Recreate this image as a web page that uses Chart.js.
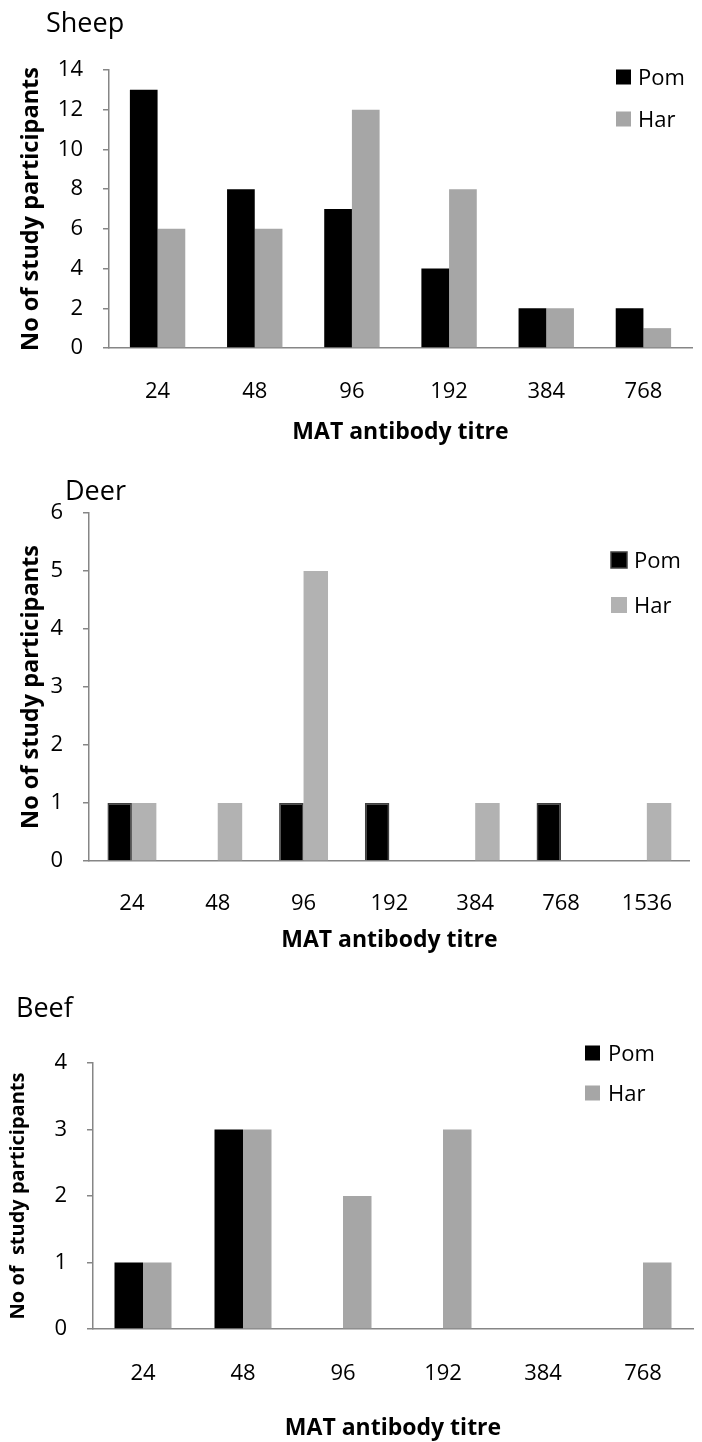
<!DOCTYPE html>
<html>
<head>
<meta charset="utf-8">
<script src="https://cdn.jsdelivr.net/npm/chart.js@4.4.1/dist/chart.umd.min.js"></script>
<style>
  html, body { margin: 0; padding: 0; background: #fff; overflow: hidden; }
  #wrap { position: relative; width: 702px; height: 1442px; }
  canvas { position: absolute; left: 0; }
</style>
</head>
<body>
<div id="wrap">
  <canvas id="sheep" style="top:0px"></canvas>
  <canvas id="deer" style="top:465px"></canvas>
  <canvas id="beef" style="top:970px"></canvas>
</div>
<script>
// data
var titres = ["24", "48", "96", "192", "384", "768"];
var titresDeer = ["24", "48", "96", "192", "384", "768", "1536"];

var sheepPom = [13, 8, 7, 4, 2, 2];
var sheepHar = [6, 6, 12, 8, 2, 1];

var deerPom = [1, 0, 1, 1, 0, 1, 0];
var deerHar = [1, 1, 5, 0, 1, 0, 1];

var beefPom = [1, 3, 0, 0, 0, 0];
var beefHar = [1, 3, 2, 3, 0, 1];

var sheepYMax = 14, sheepYStep = 2;
var deerYMax = 6, deerYStep = 1;
var beefYMax = 4, beefYStep = 1;

var FONT = "'Open Sans', sans-serif";
var AXIS = "#868686";

Chart.defaults.font.family = FONT;
Chart.defaults.color = "#000";

// chart title + legend drawn on top of the plot, like the Excel original
var extras = {
  id: "extras",
  afterDraw: function (chart, args, o) {
    var ctx = chart.ctx;
    ctx.save();
    ctx.textBaseline = "alphabetic";
    ctx.textAlign = "left";
    ctx.fillStyle = "#000";
    ctx.font = "27px " + FONT;
    ctx.fillText(o.title, o.titleX, o.titleY);
    ctx.font = "22px " + FONT;
    chart.data.datasets.forEach(function (ds, i) {
      var y = o.legendY[i];
      ctx.fillStyle = ds.backgroundColor;
      ctx.fillRect(o.legendX, y - o.box / 2, o.box, o.box);
      if (ds.borderWidth) {
        ctx.strokeStyle = ds.borderColor;
        ctx.lineWidth = ds.borderWidth;
        ctx.strokeRect(o.legendX, y - o.box / 2, o.box, o.box);
      }
      ctx.fillStyle = "#000";
      ctx.fillText(ds.label, o.textX, y + 8);
    });
    ctx.restore();
  }
};

function makeChart(id, s) {
  var cv = document.getElementById(id);
  cv.width = 702;
  cv.height = s.h;
  cv.style.width = "702px";
  cv.style.height = s.h + "px";
  return new Chart(cv.getContext("2d"), {
    type: "bar",
    data: {
      labels: s.labels,
      datasets: [
        {
          label: "Pom",
          data: s.pom,
          backgroundColor: "#000000",
          borderColor: s.pomBorder || "#000000",
          borderWidth: s.pomBorder ? 1.5 : 0
        },
        {
          label: "Har",
          data: s.har,
          backgroundColor: s.harColor,
          borderWidth: 0
        }
      ]
    },
    options: {
      responsive: false,
      animation: false,
      events: [],
      layout: { padding: s.pad },
      datasets: { bar: { categoryPercentage: 0.57, barPercentage: 1 } },
      plugins: {
        legend: { display: false },
        tooltip: { enabled: false },
        extras: s.extras
      },
      scales: {
        x: {
          grid: { display: false, drawTicks: false },
          border: { display: true, color: AXIS, width: 1.5 },
          ticks: { padding: s.xTickPad, maxRotation: 0, font: { size: 22 } },
          title: {
            display: true,
            text: "MAT antibody titre",
            font: { size: 23, weight: "bold" },
            padding: { top: 0, bottom: s.xTitlePad }
          },
          afterFit: function (sc) { sc.height = s.xHeight; }
        },
        y: {
          min: 0,
          max: s.yMax,
          ticks: { stepSize: s.yStep, padding: s.yTickPad, font: { size: 22 } },
          grid: { drawOnChartArea: false, drawTicks: true, tickLength: 6, color: AXIS, lineWidth: 1.5 },
          border: { display: true, color: AXIS, width: 1.5 },
          title: {
            display: true,
            text: s.yTitle,
            font: { size: s.yTitleSize, weight: "bold" },
            padding: { top: s.yTitlePad, bottom: 0 }
          },
          afterFit: function (sc) { sc.width = s.yWidth; }
        }
      }
    },
    plugins: [extras]
  });
}

makeChart("sheep", {
  h: 465, labels: titres, pom: sheepPom, har: sheepHar, harColor: "#a6a6a6",
  pad: { top: 70, right: 10, left: 0, bottom: 0 },
  yWidth: 109, xHeight: 117, yMax: sheepYMax, yStep: sheepYStep,
  xTickPad: 31, xTitlePad: 19, yTickPad: 20, yTitlePad: 17,
  yTitle: "No of study participants", yTitleSize: 23.5,
  extras: { title: "Sheep", titleX: 46, titleY: 32, legendX: 616, box: 15, textX: 638, legendY: [77, 119] }
});

makeChart("deer", {
  h: 505, labels: titresDeer, pom: deerPom, har: deerHar, harColor: "#b2b2b2", pomBorder: "#404040",
  pad: { top: 48, right: 0, left: 0, bottom: 0 },
  yWidth: 89, xHeight: 109, yMax: deerYMax, yStep: deerYStep,
  xTickPad: 30, xTitlePad: 16, yTickPad: 20, yTitlePad: 17,
  yTitle: "No of study participants", yTitleSize: 23.5,
  extras: { title: "Deer", titleX: 65, titleY: 35, legendX: 611, box: 16, textX: 634, legendY: [95, 140] }
});

makeChart("beef", {
  h: 472, labels: titres, pom: beefPom, har: beefHar, harColor: "#a6a6a6",
  pad: { top: 93, right: 9, left: 0, bottom: 0 },
  yWidth: 93, xHeight: 113, yMax: beefYMax, yStep: beefYStep,
  xTickPad: 32, xTitlePad: 0, yTickPad: 20, yTitlePad: 6,
  yTitle: "No of  study participants", yTitleSize: 20,
  extras: { title: "Beef", titleX: 16, titleY: 47, legendX: 585, box: 15, textX: 608, legendY: [83, 123] }
});
</script>
</body>
</html>
